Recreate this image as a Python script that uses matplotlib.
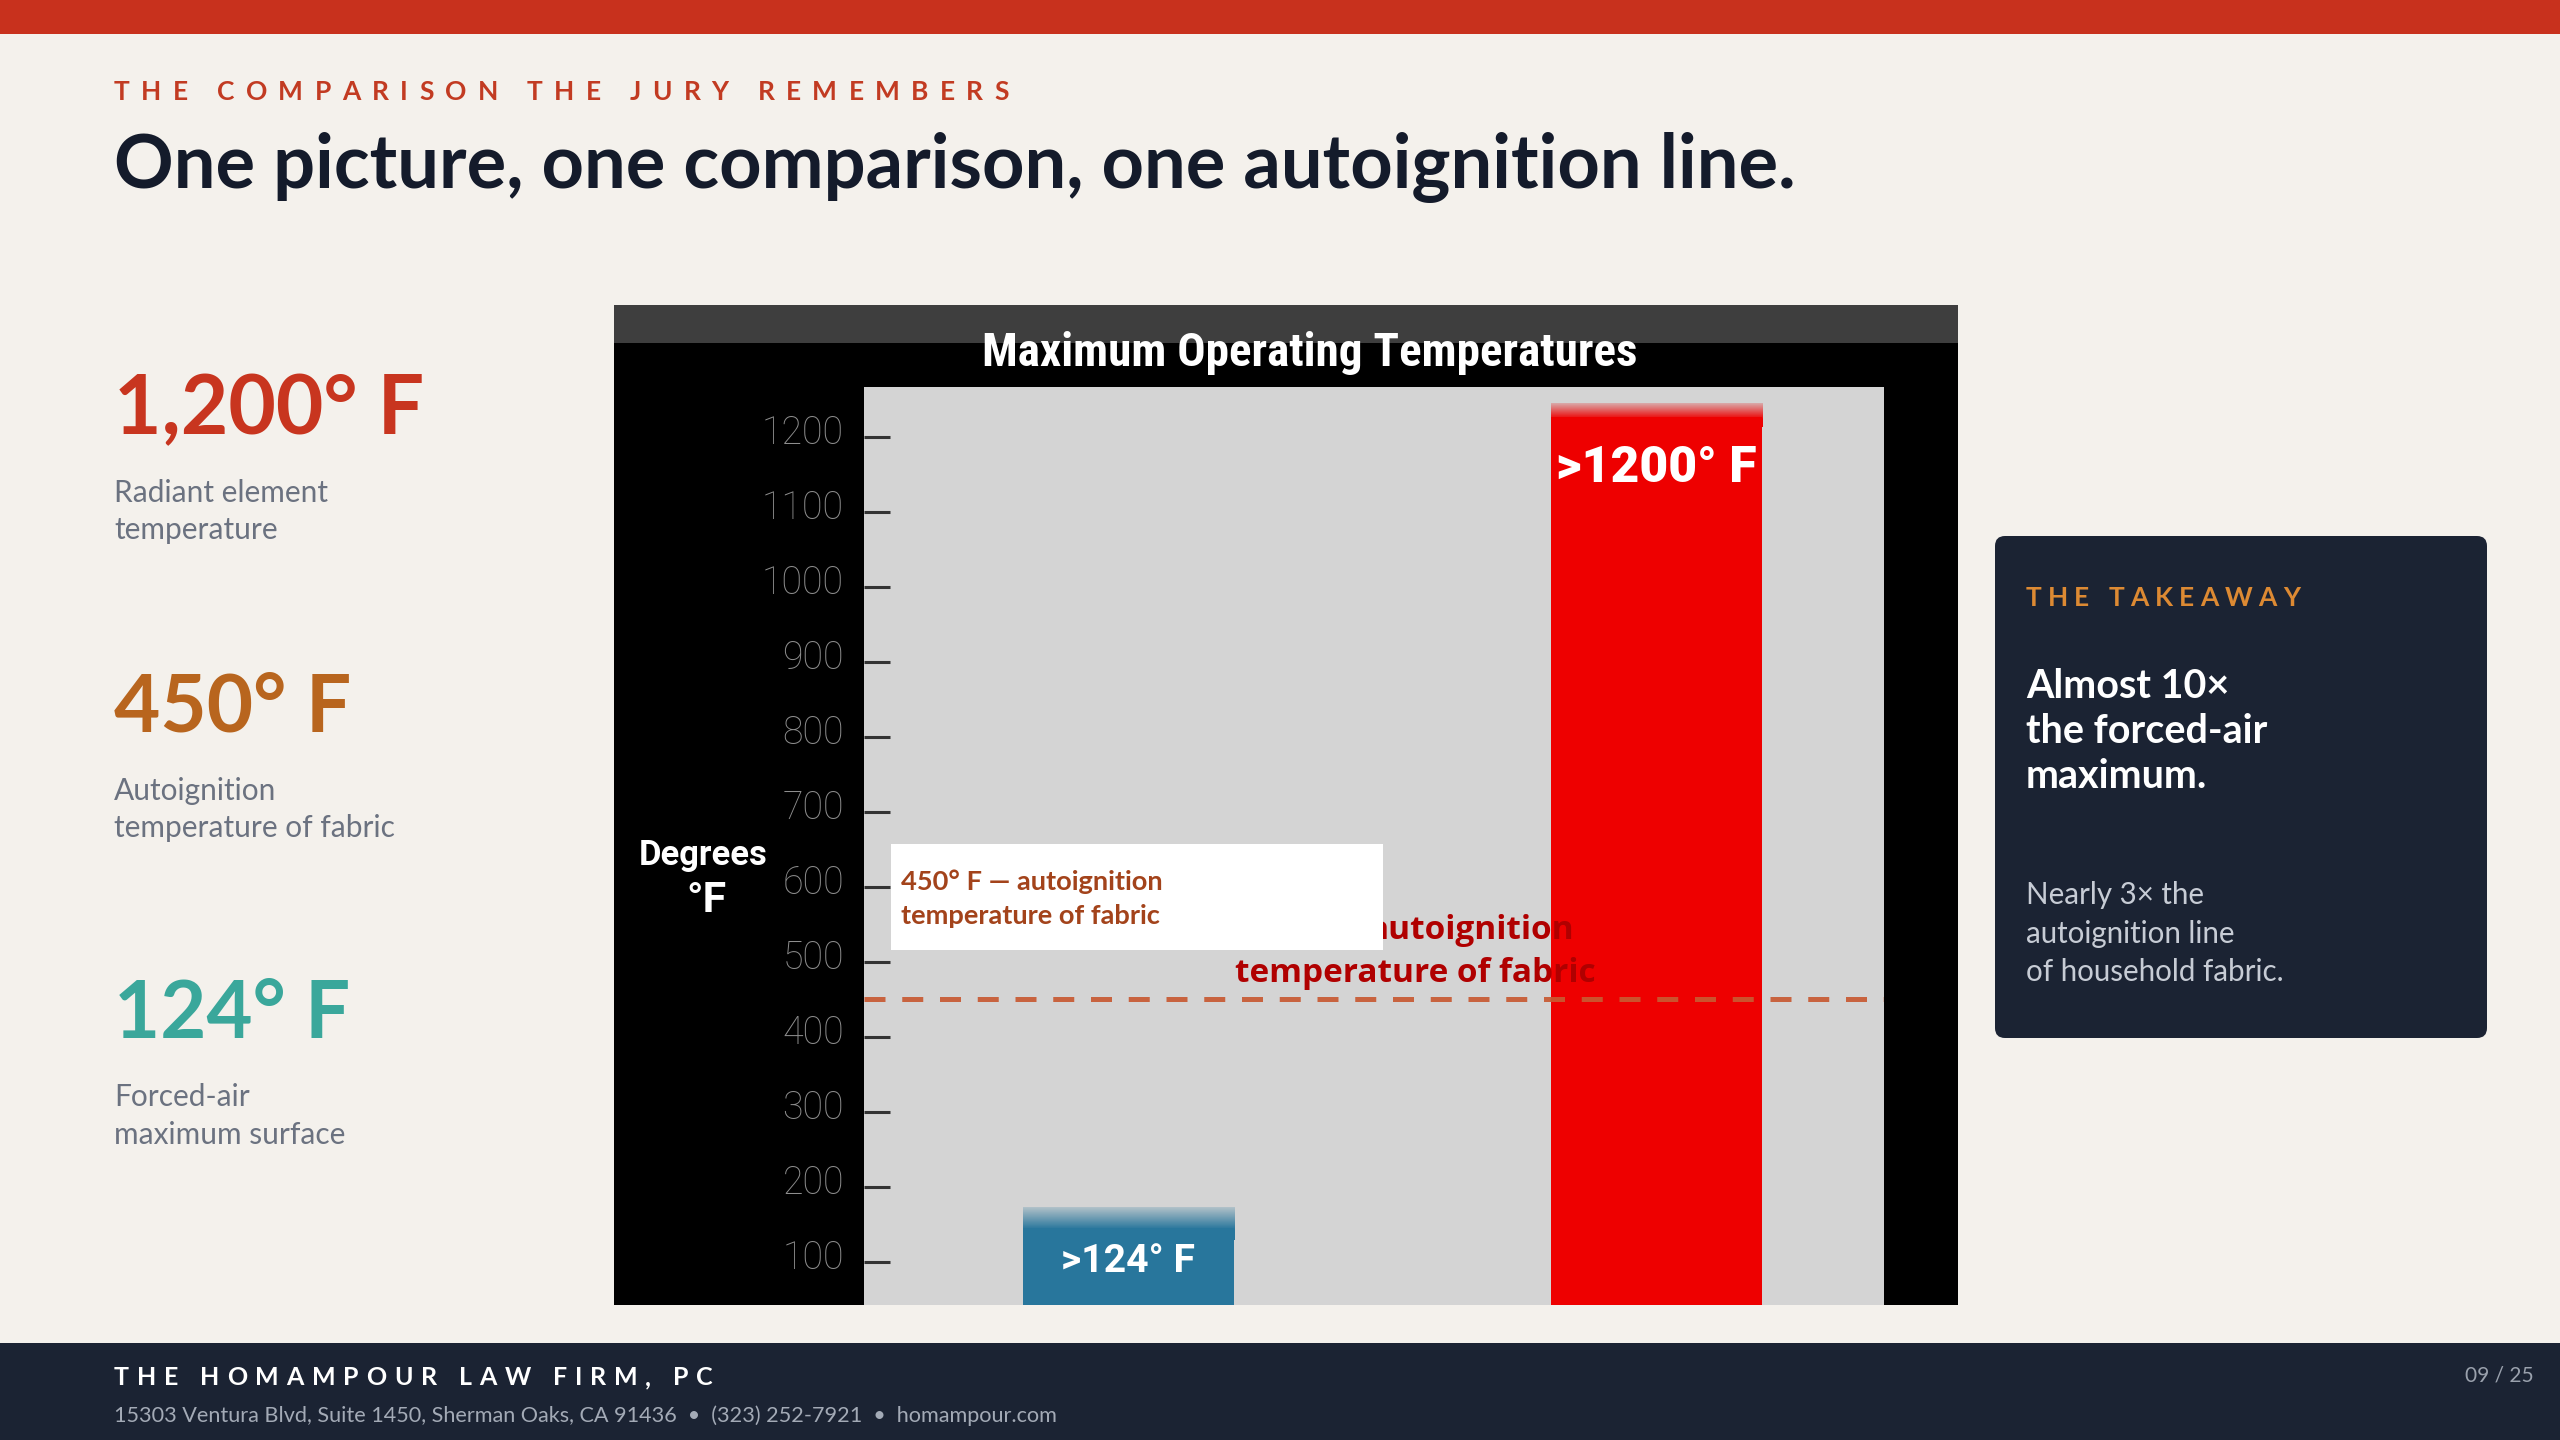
import numpy as np
import matplotlib
matplotlib.use("Agg")
import matplotlib.pyplot as plt
import matplotlib.transforms as mtrans
from matplotlib import font_manager as fm
from matplotlib.font_manager import FontProperties
from matplotlib.patches import Rectangle, FancyBboxPatch
from matplotlib.colors import to_rgb

# ---------------- data ----------------
CATEGORIES = ["Forced-air", "Radiant element"]
BAR_TOPS = [171, 1245]          # drawn bar height in °F (soft top included)
BAR_FADE = [43, 32]             # height of the soft fading top, °F
BAR_LABELS = [">124° F", ">1200° F"]
BAR_COLORS = ["#28769C", "#EE0000"]
AUTOIGNITION = 450
YTICKS = [100, 200, 300, 400, 500, 600, 700, 800, 900, 1000, 1100, 1200]
YLIM = (42, 1266)

STAT_VALUES = ["1,200° F", "450° F", "124° F"]
STAT_LABELS = [["Radiant element", "temperature"],
               ["Autoignition", "temperature of fabric"],
               ["Forced-air", "maximum surface"]]
STAT_COLORS = ["#C8351F", "#B8651E", "#3AA79B"]

KICKER = "THE COMPARISON THE JURY REMEMBERS"
TITLE = "One picture, one comparison, one autoignition line."
CHART_TITLE = "Maximum Operating Temperatures"
Y_LABEL = ["Degrees", "°F"]
BOX_LABEL = ["450° F — autoignition", "temperature of fabric"]
BAKED_LABEL = ["autoignition", "temperature of fabric"]
TAKEAWAY_KICKER = "THE TAKEAWAY"
TAKEAWAY_HEAD = ["Almost 10×", "the forced-air", "maximum."]
TAKEAWAY_BODY = ["Nearly 3× the", "autoignition line", "of household fabric."]
FIRM = "THE HOMAMPOUR LAW FIRM, PC"
ADDRESS = "15303 Ventura Blvd, Suite 1450, Sherman Oaks, CA 91436  •  (323) 252-7921  •  homampour.com"
PAGE = "09 / 25"

# ---------------- fonts ----------------
NAMES = {f.name for f in fm.fontManager.ttflist}


def pick(*cands):
    for c in cands:
        if c in NAMES:
            return c
    return "DejaVu Sans"


BODY = pick("Lato", "Open Sans", "Noto Sans")
HEAD = pick("Lato", "Open Sans", "Noto Sans")
ARIAL = pick("Roboto", "Liberation Sans", "Noto Sans")
COND = pick("Liberation Sans Narrow", "Roboto Condensed", "DejaVu Sans Condensed",
            "Noto Sans Condensed", "Open Sans Condensed", "Roboto")
BAKED = pick("Open Sans", "Noto Sans", "Lato")

# ---------------- figure ----------------
W, H, DPI = 2560, 1440, 100
fig = plt.figure(figsize=(W / DPI, H / DPI), dpi=DPI)
fig.patch.set_facecolor("#F4F1EC")
renderer = fig.canvas.get_renderer()

# pixel canvas for decoration (origin top-left)
ax0 = fig.add_axes([0, 0, 1, 1], zorder=-1)
ax0.set_xlim(0, W)
ax0.set_ylim(H, 0)
ax0.axis("off")
PX = ax0.transData


def rect(x0, y0, x1, y1, color, z=0):
    ax0.add_patch(Rectangle((x0, y0), x1 - x0, y1 - y0, facecolor=color,
                            edgecolor="none", zorder=z))


def T(x, y, s, size, family, weight="normal", color="k", ha="left",
      width=None, ax=None, transform=None, z=3):
    ax = ax or ax0
    t = ax.text(x, y, s, fontsize=size, family=family, weight=weight, color=color,
                ha=ha, va="baseline", transform=transform or PX, zorder=z)
    if width:
        w = t.get_window_extent(renderer).width
        t.set_fontsize(size * width / w)
    return t


def spaced(x, y, s, size, family, weight, color, width):
    fp = FontProperties(family=family, weight=weight, size=size)

    def tw(u):
        return renderer.get_text_width_height_descent(u, fp, ismath=False)[0]

    base = tw("xx")
    advs = [tw("x" + c + "x") - base for c in s]
    gap = (width - sum(advs)) / (len(s) - 1)
    cx = x
    for c, a in zip(s, advs):
        ax0.text(cx, y, c, fontproperties=fp, color=color, ha="left", va="baseline")
        cx += a + gap


# ---------------- page chrome ----------------
rect(0, 0, W, 34, "#C8311D")
rect(0, 1343, W, H, "#1B2333")

spaced(114, 100, KICKER, 19, HEAD, "bold", "#C23B22", 895)
T(114, 188, TITLE, 48, HEAD, "bold", "#141B2B", width=1682)

# ---------------- left stats ----------------
stat_base = [434, 732, 1038]
stat_width = [310, 237, 236]
for i, v in enumerate(STAT_VALUES):
    T(114, stat_base[i], v, 57, HEAD, "bold", STAT_COLORS[i], width=stat_width[i])
    for j, line in enumerate(STAT_LABELS[i]):
        T(114, stat_base[i] + 68 + 37.5 * j, line, 21.5, BODY, "normal", "#6B7280")

# ---------------- chart frame ----------------
rect(614, 305, 1958, 1305, "#000000")
rect(614, 305, 1958, 343, "#3E3E3E")
T(1310, 366, CHART_TITLE, 40, COND, "bold", "white", ha="center", width=655)
T(703, 865, Y_LABEL[0], 26, ARIAL, "bold", "white", ha="center", width=129)
T(706, 912, Y_LABEL[1], 26, ARIAL, "bold", "white", ha="center", width=40)

# ---------------- chart axes ----------------
ax = fig.add_axes([864 / W, 1 - 1305 / H, 1020 / W, 918 / H], zorder=1)
ax.set_facecolor("#D4D4D4")
for sp in ax.spines.values():
    sp.set_visible(False)

xpos = np.arange(len(CATEGORIES))
BW = 0.4
for i in range(len(CATEGORIES)):
    top, fade, col = BAR_TOPS[i], BAR_FADE[i], BAR_COLORS[i]
    # solid body slightly overlaps the fading cap to avoid a seam
    ax.bar(xpos[i], top - fade * 0.6, width=BW, color=col, linewidth=0, zorder=1)
    n = 256
    grad = np.zeros((n, 1, 4))
    grad[..., :3] = to_rgb(col)
    grad[:, 0, 3] = np.concatenate([np.ones(n // 3), np.linspace(1.0, 0.2, n - n // 3)])
    ax.imshow(grad, extent=(xpos[i] - BW / 2, xpos[i] + BW / 2, top - fade, top),
              origin="lower", aspect="auto", interpolation="nearest", zorder=1.2)

label_off = [85, 105]
label_w = [134, 200]
label_wt = ["bold", "black"]
for i in range(len(CATEGORIES)):
    T(xpos[i], BAR_TOPS[i] - label_off[i], BAR_LABELS[i], 30, ARIAL, label_wt[i], "white",
      ha="center", width=label_w[i], ax=ax, transform=ax.transData, z=6)

ax.axhline(AUTOIGNITION, color="#C85A32", lw=3.6, dashes=(4.2, 3.35), alpha=0.92, zorder=3)

# original baked-in annotation (partly hidden)
tb = T(1235, 982, BAKED_LABEL[1], 21, BAKED, "bold", "#B00000", width=360, ax=ax, z=2.5)
T(1574, 939, BAKED_LABEL[0], tb.get_fontsize(), BAKED, "bold", "#B00000", ha="right", ax=ax, z=2.5)

# white label box
box = Rectangle((891, 844), 492, 106, facecolor="white", edgecolor="none",
                transform=PX, zorder=4)
ax.add_patch(box)
t1 = T(901, 890, BOX_LABEL[0], 18, BODY, "bold", "#A3431B", width=264, ax=ax, z=5)
T(901, 924, BOX_LABEL[1], t1.get_fontsize(), BODY, "bold", "#A3431B", ax=ax, z=5)

ax.set_xlim(-0.5, 1.43)
ax.set_ylim(*YLIM)
ax.set_xticks([])
ax.set_yticks(YTICKS)
ax.set_yticklabels([str(v) for v in YTICKS])
ax.tick_params(axis="y", direction="in", length=18.7, width=2.2, color="#333333",
               pad=14.4, labelsize=27, labelcolor="#8E8E8E")
lift = mtrans.ScaledTranslation(0, 7 / DPI, fig.dpi_scale_trans)
for lb in ax.get_yticklabels():
    lb.set_family(ARIAL)
    lb.set_weight("light")
    lb.set_transform(lb.get_transform() + lift)

# ---------------- takeaway card ----------------
ax0.add_patch(FancyBboxPatch((1995, 536), 492, 502,
                             boxstyle="round,pad=0,rounding_size=10",
                             facecolor="#1B2333", edgecolor="none", zorder=1))
spaced(2026, 606, TAKEAWAY_KICKER, 19, HEAD, "bold", "#DD8A33", 274)
th = T(2026, 743, TAKEAWAY_HEAD[1], 22, HEAD, "bold", "white", width=241)
T(2026, 698, TAKEAWAY_HEAD[0], th.get_fontsize(), HEAD, "bold", "white")
T(2026, 788, TAKEAWAY_HEAD[2], th.get_fontsize(), HEAD, "bold", "white")
tbd = T(2026, 981, TAKEAWAY_BODY[2], 18, BODY, "normal", "#C7CCD5", width=257)
T(2026, 904, TAKEAWAY_BODY[0], tbd.get_fontsize(), BODY, "normal", "#C7CCD5")
T(2026, 943, TAKEAWAY_BODY[1], tbd.get_fontsize(), BODY, "normal", "#C7CCD5")

# ---------------- footer ----------------
spaced(114, 1385, FIRM, 18, HEAD, "bold", "white", 599)
T(114, 1422, ADDRESS, 15.5, BODY, "normal", "#A3AAB6", width=944)
T(2534, 1382, PAGE, 15, BODY, "normal", "#9AA1AD", ha="right")

fig.savefig("out.png", dpi=DPI, facecolor=fig.get_facecolor())
